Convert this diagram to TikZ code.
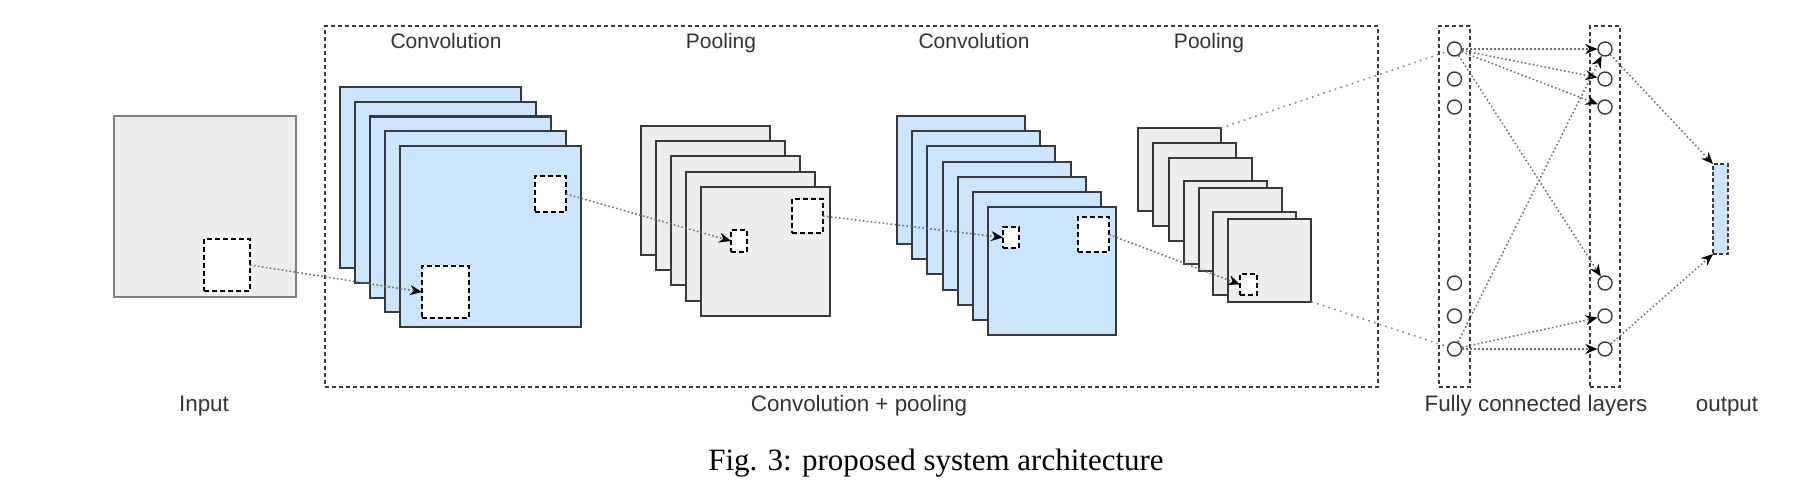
\documentclass[tikz,border=0pt]{standalone}
\usepackage{fontspec}
\setmainfont{Liberation Sans}
\newfontfamily\capfont{Liberation Serif}
\usetikzlibrary{arrows.meta}
\definecolor{sheetblue}{HTML}{CCE5FF}
\definecolor{sheetgray}{HTML}{EEEEEE}
\definecolor{edgegray}{HTML}{36393D}
\definecolor{textgray}{HTML}{333333}
\tikzset{
  sheet/.style={draw=edgegray, line width=1pt, anchor=north west, inner sep=0pt, outer sep=0pt},
  field/.style={draw=black, fill=white, line width=0.75pt, dash pattern=on 2.5pt off 1.5pt, inner sep=0pt, outer sep=0pt},
  frame/.style={draw=edgegray, line width=0.6pt, dash pattern=on 2pt off 1.5pt, anchor=north west, inner sep=0pt, outer sep=0pt},
  unit/.style={circle, draw=edgegray, line width=0.7pt, minimum size=7pt, inner sep=0pt},
  flow/.style={draw=gray!85!black, line width=0.75pt, dash pattern=on 0.8pt off 1.2pt, -{Stealth[length=6pt,width=5pt,black]}},
  link/.style={draw=gray, line width=0.75pt, dash pattern=on 0.8pt off 2.2pt},
  lbl/.style={font=\fontsize{10.5}{12}\selectfont, text=textgray, anchor=base},
  lblb/.style={font=\fontsize{11.2}{13}\selectfont, text=textgray, anchor=base}
}
\begin{document}
\begin{tikzpicture}[x=0.5pt, y=-0.5pt]
	\def\px{0.5pt}
	\useasboundingbox (0,0) rectangle (1818,492);
	\node[sheet, draw=gray, fill=sheetgray, minimum width=182*\px, minimum height=181*\px] (in) at (114,116) {};
	\node[field, minimum width=46*\px, minimum height=52*\px] (in-f) at (227,265) {};
	\node[frame, minimum width=1053*\px, minimum height=361*\px] (cp) at (325,26) {};
	\foreach \i in {0,...,4}
		\node[sheet, fill=sheetblue, minimum size=181*\px] (cv1-\i) at ({340+15*\i},{87+14.75*\i}) {};
	\node[field, minimum width=47*\px, minimum height=52*\px] (cv1-fa) at (445.5,292) {};
	\node[field, minimum width=31*\px, minimum height=36*\px] (cv1-fb) at (550.5,194) {};
	\foreach \i in {0,...,4}
		\node[sheet, fill=sheetgray, minimum size=129*\px] (pl1-\i) at ({641+15*\i},{126+15.2*\i}) {};
	\node[field, minimum width=16*\px, minimum height=22*\px] (pl1-fa) at (739,241) {};
	\node[field, minimum width=31*\px, minimum height=34*\px] (pl1-fb) at (807.5,216) {};
	\foreach \i in {0,...,6}
		\node[sheet, fill=sheetblue, minimum size=128*\px] (cv2-\i) at ({897+15.2*\i},{116+15.2*\i}) {};
	\node[field, minimum width=16*\px, minimum height=21*\px] (cv2-fa) at (1011,237.5) {};
	\node[field, minimum width=31*\px, minimum height=35*\px] (cv2-fb) at (1093.5,234.5) {};
	\foreach \i/\x/\y in {0/1138/128,1/1153.3/143.3,2/1168.7/158.3,3/1183.7/180.7,4/1198.7/188.3,5/1213.3/211.7,6/1228.3/218.7}
		\node[sheet, fill=sheetgray, minimum size=83*\px] (pl2-\i) at (\x,\y) {};
	\node[field, minimum width=17*\px, minimum height=21*\px] (pl2-fa) at (1248.5,284.5) {};
	\draw[flow] (in-f.east) -- (cv1-fa.west);
	\draw[flow] (cv1-fb.east) -- (pl1-fa.west);
	\draw[flow] (pl1-fb.east) -- (cv2-fa.west);
	\draw[flow] (cv2-fb.east) -- (pl2-fa.west);
	\node[frame, minimum width=31*\px, minimum height=361*\px] (fc1) at (1439,26) {};
	\node[frame, minimum width=30*\px, minimum height=361*\px] (fc2) at (1590,26) {};
	\foreach \i/\y in {1/49,2/79,3/107,4/283,5/316,6/349} {
		\node[unit] (fa-\i) at (1454.5,\y) {};
		\node[unit] (fb-\i) at (1605,\y) {};
	}
	\node[sheet, fill=sheetblue, draw=edgegray, line width=0.7pt, dash pattern=on 2pt off 1.2pt, minimum width=15*\px, minimum height=90*\px] (out) at (1713,164) {};
	\draw[link] (pl2-0.north east) -- (fa-1);
	\draw[link] (pl2-6.south east) -- (fa-6);
	\foreach \j in {1,2,3,4}
		\draw[flow] (fa-1) -- (fb-\j);
	\foreach \j in {1,5,6}
		\draw[flow] (fa-6) -- (fb-\j);
	\draw[flow] (fb-1) -- (out.north west);
	\draw[flow] (fb-6) -- (out.south west);
	\node[lbl] (t-cv1) at (446,49) {Convolution};
	\node[lbl] (t-pl1) at (721,49) {Pooling};
	\node[lbl] (t-cv2) at (974,49) {Convolution};
	\node[lbl] (t-pl2) at (1209,49) {Pooling};
	\node[lblb] (t-in) at (204,411) {Input};
	\node[lblb] (t-cp) at (859,411) {Convolution + pooling};
	\node[lblb] (t-fc) at (1536,411) {Fully connected layers};
	\node[lblb] (t-out) at (1727,411) {output};
	\node[font=\capfont\fontsize{15.5}{18}\selectfont, anchor=base] (cap) at (936,470) {Fig. 3: proposed system architecture};
\end{tikzpicture}
\end{document}
